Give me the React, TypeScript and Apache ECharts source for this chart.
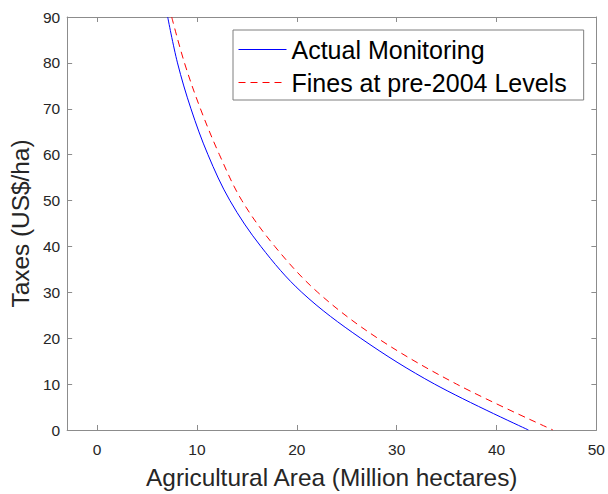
import React, { useEffect, useRef } from "react";
import * as echarts from "echarts";

const xTickValues = [0, 10, 20, 30, 40, 50];

const actualX = [7.07, 8.05, 9.4, 11.1, 13.3, 16.4, 20.5, 26.4, 33.8, 43.2];
const actualY = [90, 80, 70, 60, 50, 40, 30, 20, 10, 0];

const finesX = [7.47, 8.75, 10.35, 12.25, 14.5, 17.8, 22.1, 28.1, 36.0, 45.65];
const finesY = [90, 80, 70, 60, 50, 40, 30, 20, 10, 0];

const seriesNames = ["Actual Monitoring", "Fines at pre-2004 Levels"];
const seriesColors = ["#0000ff", "#ff0000"];

const FONT = "'Liberation Sans', Arial, Helvetica, sans-serif";
const AXIS_GRAY = "#8c8c8c";
const TEXT_DARK = "#262626";
const DASH = [7, 5];

export default function App() {
  const ref = useRef<HTMLDivElement>(null);

  useEffect(() => {
    document.body.style.margin = "0";
    if (!ref.current) return;
    const chart = echarts.init(ref.current, null, { renderer: "svg" });

    const pairs = (xs: number[], ys: number[]) => xs.map((x, i) => [x, ys[i]]);

    const baseX = {
      type: "value",
      min: -3,
      max: 50,
      splitLine: { show: false },
      axisLine: { show: true, onZero: false, lineStyle: { color: AXIS_GRAY, width: 1 } },
      axisTick: { show: true, inside: true, length: 5, customValues: xTickValues, lineStyle: { color: AXIS_GRAY } },
    };
    const baseY = {
      type: "value",
      min: 0,
      max: 90,
      interval: 10,
      splitLine: { show: false },
      axisLine: { show: true, onZero: false, lineStyle: { color: AXIS_GRAY, width: 1 } },
      axisTick: { show: true, inside: true, length: 5, lineStyle: { color: AXIS_GRAY } },
    };

    chart.setOption({
      animation: false,
      backgroundColor: "#ffffff",
      textStyle: { fontFamily: FONT },
      grid: { left: 65, right: 11, top: 17, bottom: 60, containLabel: false },
      legend: {
        data: [
          { name: seriesNames[0], lineStyle: { color: seriesColors[0], width: 1, type: "solid" } },
          { name: seriesNames[1], lineStyle: { color: seriesColors[1], width: 1, type: DASH } },
        ],
        orient: "vertical",
        left: 233,
        top: 30,
        padding: [7, 17, 5, 5],
        itemGap: 8,
        itemWidth: 48,
        itemHeight: 14,
        backgroundColor: "#ffffff",
        borderColor: "#7f7f7f",
        borderWidth: 1,
        borderRadius: 0,
        itemStyle: { opacity: 0, borderWidth: 0 },
        textStyle: { fontFamily: FONT, fontSize: 25, color: "#000000", lineHeight: 25, padding: [0, 0, 0, 0] },
      },
      xAxis: [
        {
          ...baseX,
          position: "bottom",
          name: "Agricultural Area (Million hectares)",
          nameLocation: "middle",
          nameGap: 35,
          nameTextStyle: { fontFamily: FONT, fontSize: 24.4, color: TEXT_DARK },
          axisLabel: { show: true, customValues: xTickValues, margin: 11, fontSize: 15.5, color: TEXT_DARK, fontFamily: FONT },
        },
        {
          ...baseX,
          position: "top",
          axisLabel: { show: false },
        },
      ],
      yAxis: [
        {
          ...baseY,
          position: "left",
          name: "Taxes (US$/ha)",
          nameLocation: "middle",
          nameGap: 30,
          nameTextStyle: { fontFamily: FONT, fontSize: 24.4, color: TEXT_DARK },
          axisLabel: { show: true, margin: 7, fontSize: 15.5, color: TEXT_DARK, fontFamily: FONT },
        },
        {
          ...baseY,
          position: "right",
          axisLabel: { show: false },
        },
      ],
      series: [
        {
          name: seriesNames[0],
          type: "line",
          xAxisIndex: 0,
          yAxisIndex: 0,
          data: pairs(actualX, actualY),
          smooth: 0.35,
          showSymbol: false,
          symbol: "none",
          color: seriesColors[0],
          lineStyle: { color: seriesColors[0], width: 1, type: "solid" },
          clip: true,
        },
        {
          name: seriesNames[1],
          type: "line",
          xAxisIndex: 0,
          yAxisIndex: 0,
          data: pairs(finesX, finesY),
          smooth: 0.35,
          showSymbol: false,
          symbol: "none",
          color: seriesColors[1],
          lineStyle: { color: seriesColors[1], width: 1, type: DASH },
          clip: true,
        },
      ],
    });

    return () => {
      chart.dispose();
    };
  }, []);

  return (
    <div
      ref={ref}
      style={{ position: "fixed", left: 0, top: 0, width: 608, height: 494, background: "#fff" }}
    />
  );
}
